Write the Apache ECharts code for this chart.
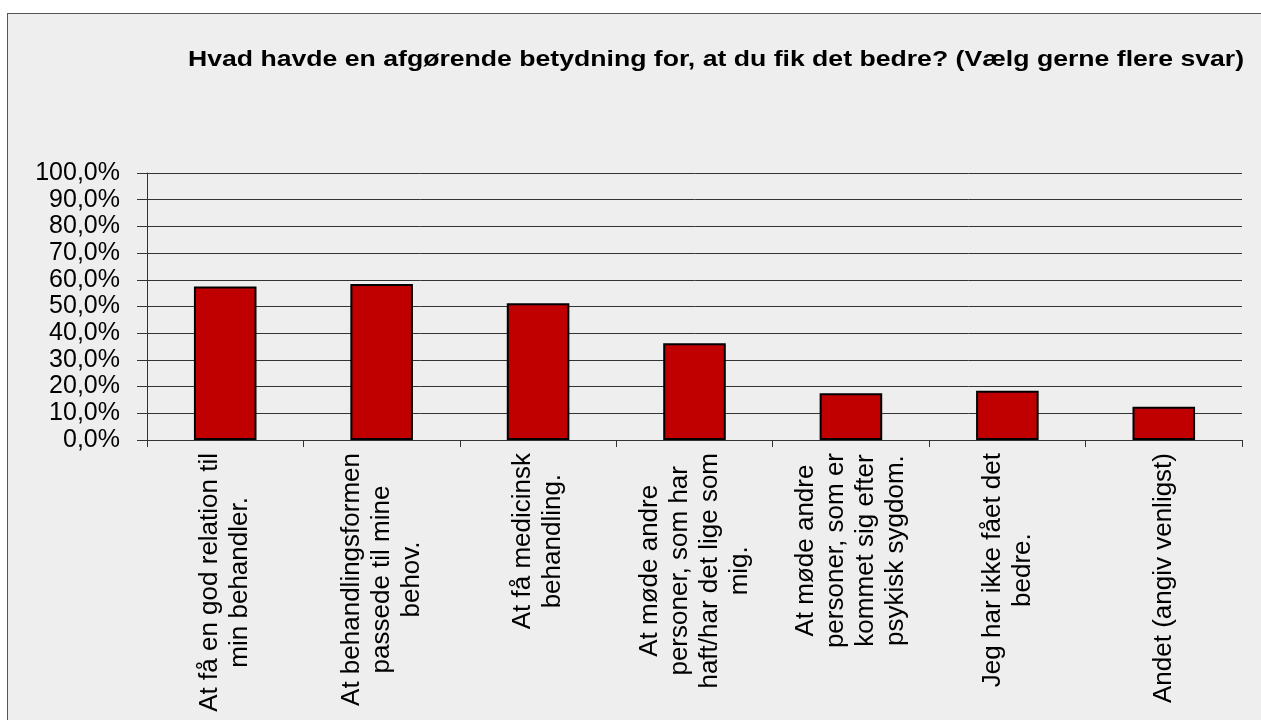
<!DOCTYPE html>
<html>
<head>
<meta charset="utf-8">
<script src="https://cdn.jsdelivr.net/npm/echarts@6/dist/echarts.min.js"></script>
<style>
html, body { margin: 0; padding: 0; background: #fff; overflow: hidden; }
#frame { position: absolute; left: 7px; top: 13px; width: 1300px; height: 800px; background: #eeeeee; border-left: 1px solid #555; border-top: 1px solid #555; }
#chart { position: absolute; left: 0; top: 0; width: 1261px; height: 720px; }
</style>
</head>
<body>
<div id="frame"></div>
<div id="chart"></div>
<script>
var TITLE = "Hvad havde en afgørende betydning for, at du fik det bedre? (Vælg gerne flere svar)";
var categories = [
	"At få en god relation til\nmin behandler.",
	"At behandlingsformen\npassede til mine\nbehov.",
	"At få medicinsk\nbehandling.",
	"At møde andre\npersoner, som har\nhaft/har det lige som\nmig.",
	"At møde andre\npersoner, som er\nkommet sig efter\npsykisk sygdom.",
	"Jeg har ikke fået det\nbedre.",
	"Andet (angiv venligst)"
];
var shares = [57.5, 58.4, 51.2, 36.2, 17.5, 18.4, 12.5];
var Y_MIN = 0, Y_MAX = 100, Y_STEP = 10;

var BAR_COLOR = "#c00000";
var LINE_COLOR = "#333";
var FONT = "'Liberation Sans', Arial, sans-serif";

var chart = echarts.init(document.getElementById("chart"));
var option = {
	backgroundColor: "transparent",
	animation: false,
	// title drawn as graphic text so it can be stretched like the original
	graphic: [
		{
			type: "text",
			x: 716,
			y: 60,
			scaleX: 1.21,
			style: {
				text: TITLE,
				font: "bold 22px 'Liberation Sans', Arial, sans-serif",
				fill: "#000",
				textAlign: "center",
				textVerticalAlign: "middle"
			}
		}
	],
	grid: {
		left: 147,
		top: 173,
		width: 1095,
		height: 267,
		containLabel: false
	},
	xAxis: {
		type: "category",
		data: categories,
		axisLine: { show: true, lineStyle: { color: LINE_COLOR, width: 1 } },
		axisTick: { show: true, length: 7, lineStyle: { color: LINE_COLOR } },
		axisLabel: {
			rotate: 90,
			interval: 0,
			margin: 13,
			fontFamily: FONT,
			fontSize: 26,
			lineHeight: 30,
			color: "#000",
			formatter: function(value) {
				return value.split("\n").map(function(line) {
					return "{c|" + line + "}";
				}).join("\n");
			},
			rich: {
				c: {
					align: "center",
					fontFamily: FONT,
					fontSize: 26,
					lineHeight: 30,
					color: "#000"
				}
			}
		}
	},
	yAxis: {
		type: "value",
		min: Y_MIN,
		max: Y_MAX,
		interval: Y_STEP,
		axisLine: { show: true, lineStyle: { color: LINE_COLOR, width: 1 } },
		axisTick: { show: true, length: 10, lineStyle: { color: LINE_COLOR } },
		splitLine: { show: true, lineStyle: { color: LINE_COLOR, width: 1 } },
		axisLabel: {
			margin: 27,
			fontFamily: FONT,
			fontSize: 25,
			color: "#000",
			formatter: function(v) {
				return v.toFixed(1).replace(".", ",") + "%";
			}
		}
	},
	series: [
		{
			type: "bar",
			data: shares,
			barWidth: "40%",
			itemStyle: {
				color: BAR_COLOR,
				borderColor: "#000",
				borderWidth: 2
			}
		}
	]
};
chart.setOption(option);
</script>
</body>
</html>
